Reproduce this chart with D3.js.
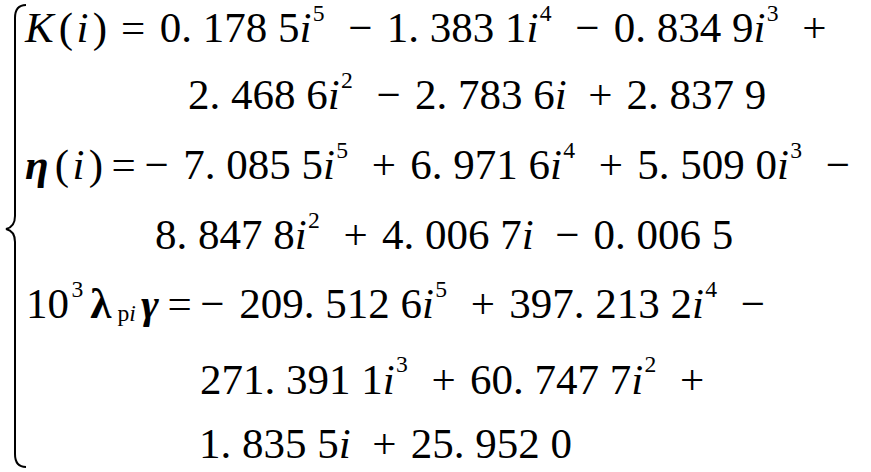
<!DOCTYPE html>
<html>
<head>
<meta charset="utf-8">
<script src="https://cdn.jsdelivr.net/npm/d3@7"></script>
</head>
<body style="margin:0">
<svg id="eq" width="871" height="472"></svg>
<script>
// polynomial coefficients, highest power first
const powers = [5, 4, 3, 2, 1, 0];
const kCoef = [0.1785, -1.3831, -0.8349, 2.4686, -2.7836, 2.8379];
const etaCoef = [-7.0855, 6.9716, 5.5090, -8.8478, 4.0067, -0.0065];
const lamCoef = [-209.5126, 397.2132, -271.3911, 60.7477, 1.8355, 25.9520];
// index of the term that starts a new printed row
const kBreaks = [3];
const etaBreaks = [3];
const lamBreaks = [2, 4];

// drawing is done in a scaled group so the text itself is set at a smaller size
const zoom = 1.375;
const fs = 43 / zoom;
const rowX = [25, 188, 25, 155, 26, 200, 199];
const rowY = [42, 109, 179, 249, 318, 394, 458];

const svg = d3.select('#eq');
const root = svg.append('g').attr('transform', `scale(${zoom})`);
const px = d3.scaleLinear().domain([0, 871]).range([0, 871 / zoom]);
const y = d3.scaleOrdinal().domain(d3.range(rowY.length)).range(rowY.map(px));

// 0.1785 -> "0. 178 5"
function fmt(v) {
  const [a, b] = Math.abs(v).toFixed(4).split('.');
  return a + '. ' + b.slice(0, 3) + ' ' + b.slice(3);
}

// a segment carries the space (in em) that comes before it
const seg = (t, cls, pre = 0) => ({ t, cls, pre });

function polyRows(lhs, coefs, breaks) {
  const rows = [lhs.slice()];
  coefs.forEach((c, k) => {
    const sign = c < 0 ? '\u2212' : '+';
    const before = k > 0 && powers[k - 1] > 1 ? 0.55 : 0.5;
    let row = rows[rows.length - 1];
    let pre;
    if (k === 0) {
      if (c < 0) row.push(seg(sign, 'rm', 0.2));
      pre = 0.34;
    } else if (breaks.includes(k)) {
      row.push(seg(sign, 'rm', before));
      row = [];
      rows.push(row);
      pre = 0;
    } else {
      row.push(seg(sign, 'rm', before));
      pre = 0.33;
    }
    row.push(seg(fmt(c), 'rm', pre));
    if (powers[k] >= 1) row.push(seg('i', 'it'));
    if (powers[k] >= 2) row.push(seg(String(powers[k]), 'sup', 0.03));
  });
  return rows;
}

const kLhs = [seg('K', 'it'), seg('(', 'rm', 0.12), seg('i', 'it', 0.08), seg(')', 'rm', 0.1), seg('=', 'rm', 0.32)];
const etaLhs = [seg('\u03b7', 'bi'), seg('(', 'rm', 0.14), seg('i', 'it', 0.08), seg(')', 'rm', 0.1), seg('=', 'rm', 0.2)];
const lamLhs = [seg('10', 'rm'), seg('3', 'sup', 0.06), seg('\u03bb', 'bd', 0.16),
  seg('p', 'sub', 0.14), seg('i', 'subit'), seg('\u03b3', 'bi', 0.12), seg('=', 'rm', 0.2)];

const rows = [].concat(
  polyRows(kLhs, kCoef, kBreaks),
  polyRows(etaLhs, etaCoef, etaBreaks),
  polyRows(lamLhs, lamCoef, lamBreaks)
);

// only non-default styles are set
const styles = {
  rm: { size: 1, dy: 0, style: null, weight: null },
  it: { size: 1, dy: 0, style: 'italic', weight: null },
  bi: { size: 1, dy: 0, style: 'italic', weight: 'bold' },
  bd: { size: 1, dy: 0, style: null, weight: 'bold' },
  sup: { size: 0.55, dy: -0.5, style: null, weight: null },
  sub: { size: 0.55, dy: 0.06, style: null, weight: null },
  subit: { size: 0.55, dy: 0.06, style: 'italic', weight: null }
};

root.selectAll('text.row')
  .data(rows)
  .join('text')
  .attr('class', 'row')
  .attr('x', (d, r) => px(rowX[r]))
  .attr('y', (d, r) => y(r))
  .style('font-family', '"Liberation Serif"')
  .attr('font-size', fs)
  .each(function (row) {
    let shift = 0;
    d3.select(this).selectAll('tspan')
      .data(row)
      .join('tspan')
      .attr('dx', d => d.pre * fs)
      .attr('dy', d => {
        const target = styles[d.cls].dy * fs;
        const dy = target - shift;
        shift = target;
        return dy;
      })
      .attr('font-size', d => styles[d.cls].size === 1 ? null : fs * styles[d.cls].size)
      .style('font-style', d => styles[d.cls].style)
      .style('font-weight', d => styles[d.cls].weight)
      .text(d => d.t);
  });

// left curly brace spanning all rows
const braceTop = 5, braceBot = 467, braceMid = 229, bx = 15;
const p = d3.path();
p.moveTo(px(bx + 11), px(braceTop));
p.quadraticCurveTo(px(bx), px(braceTop), px(bx), px(braceTop + 13));
p.lineTo(px(bx), px(braceMid - 13));
p.quadraticCurveTo(px(bx), px(braceMid - 2), px(bx - 9), px(braceMid));
p.quadraticCurveTo(px(bx), px(braceMid + 2), px(bx), px(braceMid + 13));
p.lineTo(px(bx), px(braceBot - 13));
p.quadraticCurveTo(px(bx), px(braceBot), px(bx + 11), px(braceBot));
root.append('path')
  .attr('d', p.toString())
  .attr('fill', 'none')
  .attr('stroke', '#000')
  .attr('stroke-width', 2 / zoom);
</script>
</body>
</html>
